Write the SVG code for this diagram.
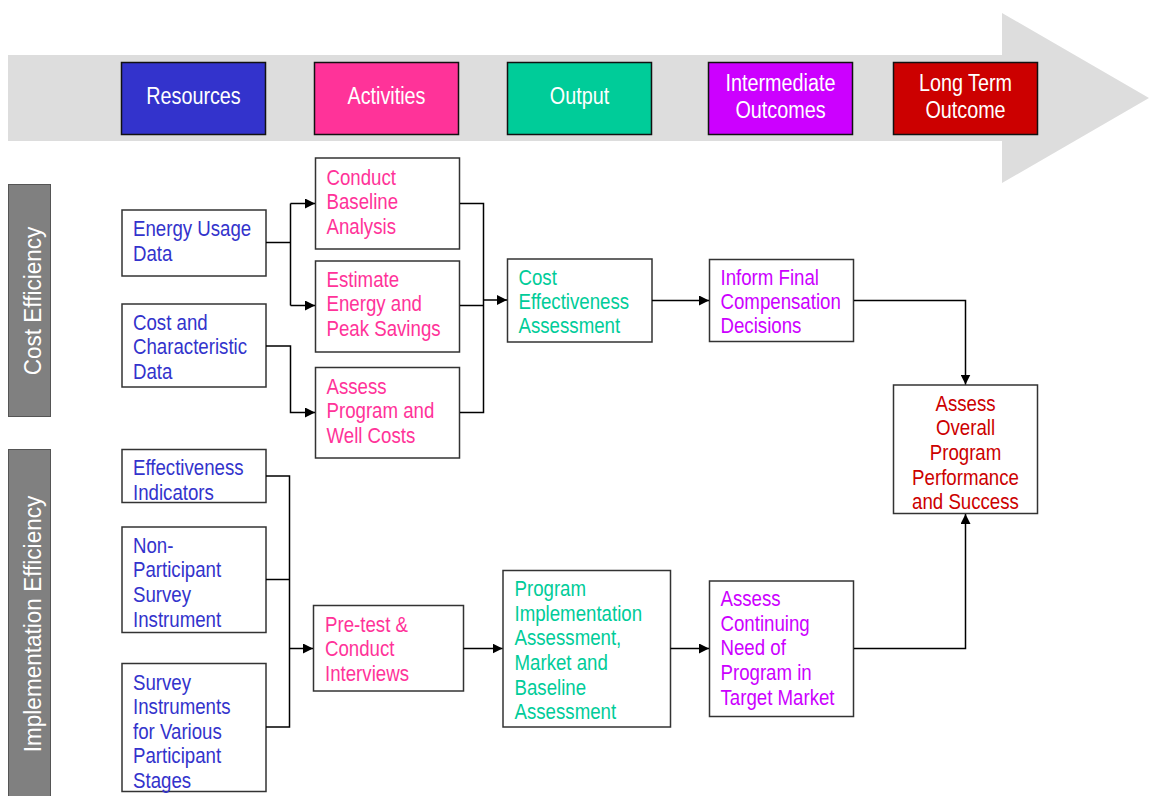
<svg xmlns="http://www.w3.org/2000/svg" width="1149" height="796" viewBox="0 0 1149 796">
<style>
text{font-family:"Liberation Sans",Arial,sans-serif;}
.hdr{font-size:23px;fill:#fff;text-anchor:middle;}
.hbox{stroke:#111;stroke-width:1.5;}
.box{fill:#fff;stroke:#333;stroke-width:1.5;}
.side{fill:#808080;stroke:#555;stroke-width:1;}
.stxt{font-size:24px;fill:#fff;text-anchor:middle;}
.t{font-size:22.5px;}
.blue{fill:#3333CC;}
.pink{fill:#FF3399;}
.green{fill:#00CC99;}
.mag{fill:#CC00FF;}
.red{fill:#CC0000;}
.ln{fill:none;stroke:#000;stroke-width:1.5;}
</style>
<defs>
<marker id="ah" viewBox="0 0 10 10" refX="10" refY="5" markerWidth="10" markerHeight="10" markerUnits="userSpaceOnUse" orient="auto">
<path d="M0,0 L10,5 L0,10 Z" fill="#000"/>
</marker>
</defs>

<g id="timeline-arrow">
<polygon points="8,55 1002,55 1002,13 1149,98 1002,183 1002,141 8,141" fill="#DDDDDD"/>
</g>

<g id="hdr-resources">
<rect class="hbox" x="121.5" y="62.5" width="144" height="72" fill="#3333CC"/>
<text class="hdr" transform="translate(193.5,104) scale(0.86,1)" x="0">Resources</text>
</g>
<g id="hdr-activities">
<rect class="hbox" x="314.5" y="62.5" width="144" height="72" fill="#FF3399"/>
<text class="hdr" transform="translate(386.5,104) scale(0.86,1)" x="0">Activities</text>
</g>
<g id="hdr-output">
<rect class="hbox" x="507.5" y="62.5" width="144" height="72" fill="#00CC99"/>
<text class="hdr" transform="translate(579.5,104) scale(0.86,1)" x="0">Output</text>
</g>
<g id="hdr-intermediate">
<rect class="hbox" x="708.5" y="62.5" width="144" height="72" fill="#CC00FF"/>
<text class="hdr" transform="translate(780.5,91) scale(0.86,1)"><tspan x="0">Intermediate</tspan><tspan x="0" dy="27">Outcomes</tspan></text>
</g>
<g id="hdr-longterm">
<rect class="hbox" x="893.5" y="62.5" width="144" height="72" fill="#CC0000"/>
<text class="hdr" transform="translate(965.5,91) scale(0.86,1)"><tspan x="0">Long Term</tspan><tspan x="0" dy="27">Outcome</tspan></text>
</g>

<g id="side-cost">
<rect class="side" x="8.5" y="184.5" width="42" height="232"/>
<text class="stxt" transform="translate(40.5,301) rotate(-90) scale(0.94,1)" x="0">Cost Efficiency</text>
</g>
<g id="side-impl">
<rect class="side" x="8.5" y="449.5" width="42" height="350"/>
<text class="stxt" transform="translate(40.5,624) rotate(-90) scale(0.94,1)" x="0">Implementation Efficiency</text>
</g>

<g id="n-energy-usage">
<rect class="box" x="122" y="210" width="144" height="66"/>
<text class="t blue" transform="translate(133,236) scale(0.83,1)"><tspan x="0">Energy Usage</tspan><tspan x="0" dy="25">Data</tspan></text>
</g>
<g id="n-cost-char">
<rect class="box" x="122" y="304" width="144" height="83"/>
<text class="t blue" transform="translate(133,330) scale(0.83,1)"><tspan x="0">Cost and</tspan><tspan x="0" dy="24.5">Characteristic</tspan><tspan x="0" dy="24.5">Data</tspan></text>
</g>
<g id="n-baseline">
<rect class="box" x="315.5" y="158" width="144" height="91"/>
<text class="t pink" transform="translate(326.5,184.5) scale(0.83,1)"><tspan x="0">Conduct</tspan><tspan x="0" dy="24.7">Baseline</tspan><tspan x="0" dy="24.7">Analysis</tspan></text>
</g>
<g id="n-estimate">
<rect class="box" x="315.5" y="261" width="144" height="91"/>
<text class="t pink" transform="translate(326.5,287) scale(0.83,1)"><tspan x="0">Estimate</tspan><tspan x="0" dy="24.5">Energy and</tspan><tspan x="0" dy="24.5">Peak Savings</tspan></text>
</g>
<g id="n-assess-costs">
<rect class="box" x="315.5" y="367.5" width="144" height="90.5"/>
<text class="t pink" transform="translate(326.5,393.5) scale(0.83,1)"><tspan x="0">Assess</tspan><tspan x="0" dy="24.7">Program and</tspan><tspan x="0" dy="24.7">Well Costs</tspan></text>
</g>
<g id="n-cost-effect">
<rect class="box" x="507.5" y="259" width="144.5" height="83"/>
<text class="t green" transform="translate(518.5,284.5) scale(0.83,1)"><tspan x="0">Cost</tspan><tspan x="0" dy="24.5">Effectiveness</tspan><tspan x="0" dy="24.5">Assessment</tspan></text>
</g>
<g id="n-inform">
<rect class="box" x="709.5" y="259.5" width="144" height="82"/>
<text class="t mag" transform="translate(720.5,284.5) scale(0.83,1)"><tspan x="0">Inform Final</tspan><tspan x="0" dy="24.5">Compensation</tspan><tspan x="0" dy="24.5">Decisions</tspan></text>
</g>
<g id="n-overall">
<rect class="box" x="893.5" y="385" width="144" height="128.5"/>
<text class="t red" text-anchor="middle" transform="translate(965.5,410.8) scale(0.83,1)"><tspan x="0">Assess</tspan><tspan x="0" dy="24.6">Overall</tspan><tspan x="0" dy="24.6">Program</tspan><tspan x="0" dy="24.6">Performance</tspan><tspan x="0" dy="24.6">and Success</tspan></text>
</g>
<g id="n-effect-ind">
<rect class="box" x="122" y="449.5" width="144" height="53"/>
<text class="t blue" transform="translate(133,475) scale(0.83,1)"><tspan x="0">Effectiveness</tspan><tspan x="0" dy="25">Indicators</tspan></text>
</g>
<g id="n-nonpart">
<rect class="box" x="122" y="527" width="144" height="105.5"/>
<text class="t blue" transform="translate(133,552.5) scale(0.83,1)"><tspan x="0">Non-</tspan><tspan x="0" dy="24.8">Participant</tspan><tspan x="0" dy="24.8">Survey</tspan><tspan x="0" dy="24.8">Instrument</tspan></text>
</g>
<g id="n-survey-inst">
<rect class="box" x="122" y="663.5" width="144" height="128"/>
<text class="t blue" transform="translate(133,689.5) scale(0.83,1)"><tspan x="0">Survey</tspan><tspan x="0" dy="24.6">Instruments</tspan><tspan x="0" dy="24.6">for Various</tspan><tspan x="0" dy="24.6">Participant</tspan><tspan x="0" dy="24.6">Stages</tspan></text>
</g>
<g id="n-pretest">
<rect class="box" x="313.5" y="605.5" width="150" height="85.5"/>
<text class="t pink" transform="translate(325,632) scale(0.83,1)"><tspan x="0">Pre-test &amp;</tspan><tspan x="0" dy="24.5">Conduct</tspan><tspan x="0" dy="24.5">Interviews</tspan></text>
</g>
<g id="n-prog-impl">
<rect class="box" x="503" y="570.5" width="167.5" height="156.5"/>
<text class="t green" transform="translate(514.5,596) scale(0.83,1)"><tspan x="0">Program</tspan><tspan x="0" dy="24.7">Implementation</tspan><tspan x="0" dy="24.7">Assessment,</tspan><tspan x="0" dy="24.7">Market and</tspan><tspan x="0" dy="24.7">Baseline</tspan><tspan x="0" dy="24.7">Assessment</tspan></text>
</g>
<g id="n-continuing">
<rect class="box" x="709.5" y="581" width="144" height="135.5"/>
<text class="t mag" transform="translate(720.5,606) scale(0.83,1)"><tspan x="0">Assess</tspan><tspan x="0" dy="24.7">Continuing</tspan><tspan x="0" dy="24.7">Need of</tspan><tspan x="0" dy="24.7">Program in</tspan><tspan x="0" dy="24.7">Target Market</tspan></text>
</g>

<g id="connectors">
<polyline class="ln" points="266,242.5 290.5,242.5"/>
<polyline class="ln" points="290.5,203.5 290.5,305.5"/>
<polyline class="ln" points="290.5,203.5 315,203.5" marker-end="url(#ah)"/>
<polyline class="ln" points="290.5,305.5 315,305.5" marker-end="url(#ah)"/>
<polyline class="ln" points="266,346 290.5,346 290.5,412.5 315,412.5" marker-end="url(#ah)"/>
<polyline class="ln" points="460,203.5 483.5,203.5 483.5,412.5 460,412.5"/>
<polyline class="ln" points="460,305.5 483.5,305.5"/>
<polyline class="ln" points="483.5,300 507,300" marker-end="url(#ah)"/>
<polyline class="ln" points="652,300.5 709,300.5" marker-end="url(#ah)"/>
<polyline class="ln" points="854,300.5 965.5,300.5 965.5,384.5" marker-end="url(#ah)"/>
<polyline class="ln" points="266,476 289.5,476 289.5,727 266,727"/>
<polyline class="ln" points="266,579.5 289.5,579.5"/>
<polyline class="ln" points="289.5,648.5 313,648.5" marker-end="url(#ah)"/>
<polyline class="ln" points="463.5,648.5 502.5,648.5" marker-end="url(#ah)"/>
<polyline class="ln" points="670.5,648.5 709,648.5" marker-end="url(#ah)"/>
<polyline class="ln" points="854,648.5 965.5,648.5 965.5,514" marker-end="url(#ah)"/>
</g>
</svg>
